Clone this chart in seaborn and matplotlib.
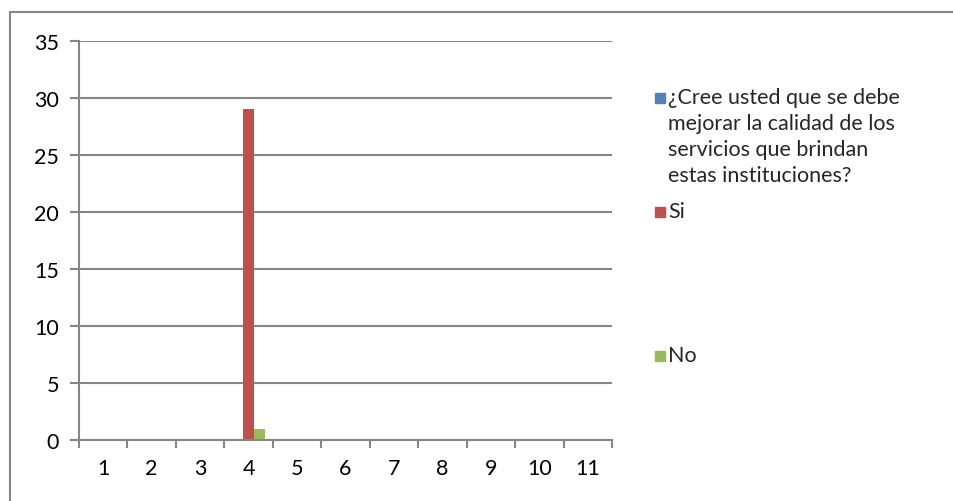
import matplotlib
matplotlib.use("Agg")
import matplotlib.pyplot as plt
import matplotlib.patches as mpatches
import numpy as np
import pandas as pd
import seaborn as sns

categories = [str(i) for i in range(1, 12)]
series_names = ["¿Cree usted que se debe\nmejorar la calidad de los\nservicios que brindan\nestas instituciones?", "Si", "No"]
pregunta = [0, 0, 0, 0, 0, 0, 0, 0, 0, 0, 0]
si = [0, 0, 0, 29, 0, 0, 0, 0, 0, 0, 0]
no = [0, 0, 0, 1, 0, 0, 0, 0, 0, 0, 0]
colors = ["#4F81BD", "#C0504D", "#9BBB59"]
yticks = [0, 5, 10, 15, 20, 25, 30, 35]

df = pd.DataFrame({
    "cat": categories * 3,
    "serie": [series_names[0]] * 11 + [series_names[1]] * 11 + [series_names[2]] * 11,
    "valor": pregunta + si + no,
})

sns.set_theme(style="white")
plt.rcParams["font.family"] = ["Lato", "DejaVu Sans"]
grey = "#868686"
fs = 15.5

fig = plt.figure(figsize=(9.54, 5.02), dpi=100)
ax = fig.add_axes([79 / 954, 1 - 441 / 502, (612 - 79) / 954, (441 - 42) / 502])

sns.barplot(data=df, x="cat", y="valor", hue="serie", palette=colors,
            width=0.68, gap=0, linewidth=0, saturation=1, ax=ax, legend=False)

ax.set_ylim(0, 35)
ax.set_yticks(yticks)
ax.set_xlim(-0.5, 10.5)
ax.set_xlabel("")
ax.set_ylabel("")
ax.yaxis.grid(True, color=grey, linewidth=1.5)
ax.set_axisbelow(True)
for s in ["top", "right"]:
    ax.spines[s].set_visible(False)
for s in ["left", "bottom"]:
    ax.spines[s].set_color(grey)
    ax.spines[s].set_linewidth(1.5)
ax.tick_params(axis="y", length=6.5, width=1.5, color=grey, labelsize=fs, pad=8, left=True)
ax.set_xticks(np.arange(-0.5, 11, 1), minor=True)
ax.tick_params(axis="x", which="major", length=0, labelsize=fs, pad=13)
ax.tick_params(axis="x", which="minor", length=5.5, width=1.5, color=grey, bottom=True)
for lab in ax.get_yticklabels() + ax.get_xticklabels():
    lab.set_color("black")

# legend drawn at Excel-like positions
leg_y = [99, 213, 357]
for name, col, yy in zip(series_names, colors, leg_y):
    fig.patches.append(mpatches.Rectangle((655 / 954, 1 - (yy + 5) / 502), 10 / 954, 10 / 502,
                                          transform=fig.transFigure, color=col))
    fig.text(668 / 954, 1 - (yy - 11) / 502, name, fontsize=fs, va="top", ha="left",
             linespacing=1.38)

fig.patches.append(mpatches.Rectangle((10 / 954, -0.1), 1.1, 1 - 13 / 502 + 0.1,
                                      transform=fig.transFigure, fill=False,
                                      edgecolor=grey, linewidth=1.5))

fig.savefig("out.png", dpi=100)
